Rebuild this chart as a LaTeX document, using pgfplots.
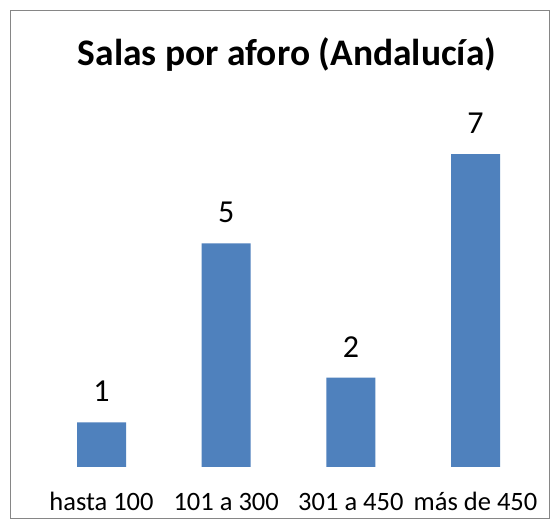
\documentclass[border=0pt]{standalone}
\usepackage{fontspec}
\setmainfont{Carlito}
\usepackage{pgfplots}
\pgfplotsset{compat=1.18}
\definecolor{barblue}{HTML}{4F81BD}
\definecolor{framegray}{HTML}{868686}
\begin{document}
\begin{tikzpicture}[x=1pt,y=1pt]
\path[use as bounding box] (0,0) rectangle (560,529);
\draw[framegray, line width=1.5pt, fill=white] (10.5,10.5) rectangle (549.5,518.5);
\begin{axis}[
  at={(39.17pt,62pt)}, anchor=south west,
  scale only axis, width=498.7pt, height=357.6pt,
  ymin=0, ymax=8, xmin=-0.5, xmax=3.5,
  axis x line*=bottom, axis y line=none,
  x axis line style={draw=none},
  ytick=\empty,
  xtick={0,1,2,3},
  xticklabels={hasta 100,101 a 300,301 a 450,más de 450},
  major tick length=0pt,
  xticklabel style={anchor=base, yshift=-44pt, inner sep=0pt, font=\fontsize{26.5}{30}\selectfont},
  /pgf/number format/assume math mode=true,
  nodes near coords,
  every node near coord/.append style={anchor=base, yshift=20.5pt, inner sep=0pt, font=\fontsize{32}{36}\selectfont, black},
  clip=false,
]
\addplot[ybar, bar width=49pt, fill=barblue, draw=none] coordinates {(0,1) (1,5) (2,2) (3,7)};
\end{axis}
\node[anchor=base, inner sep=0pt, font=\fontsize{37.5}{44}\selectfont\bfseries] at (287,463) {Salas por aforo (Andalucía)};
\end{tikzpicture}
\end{document}
